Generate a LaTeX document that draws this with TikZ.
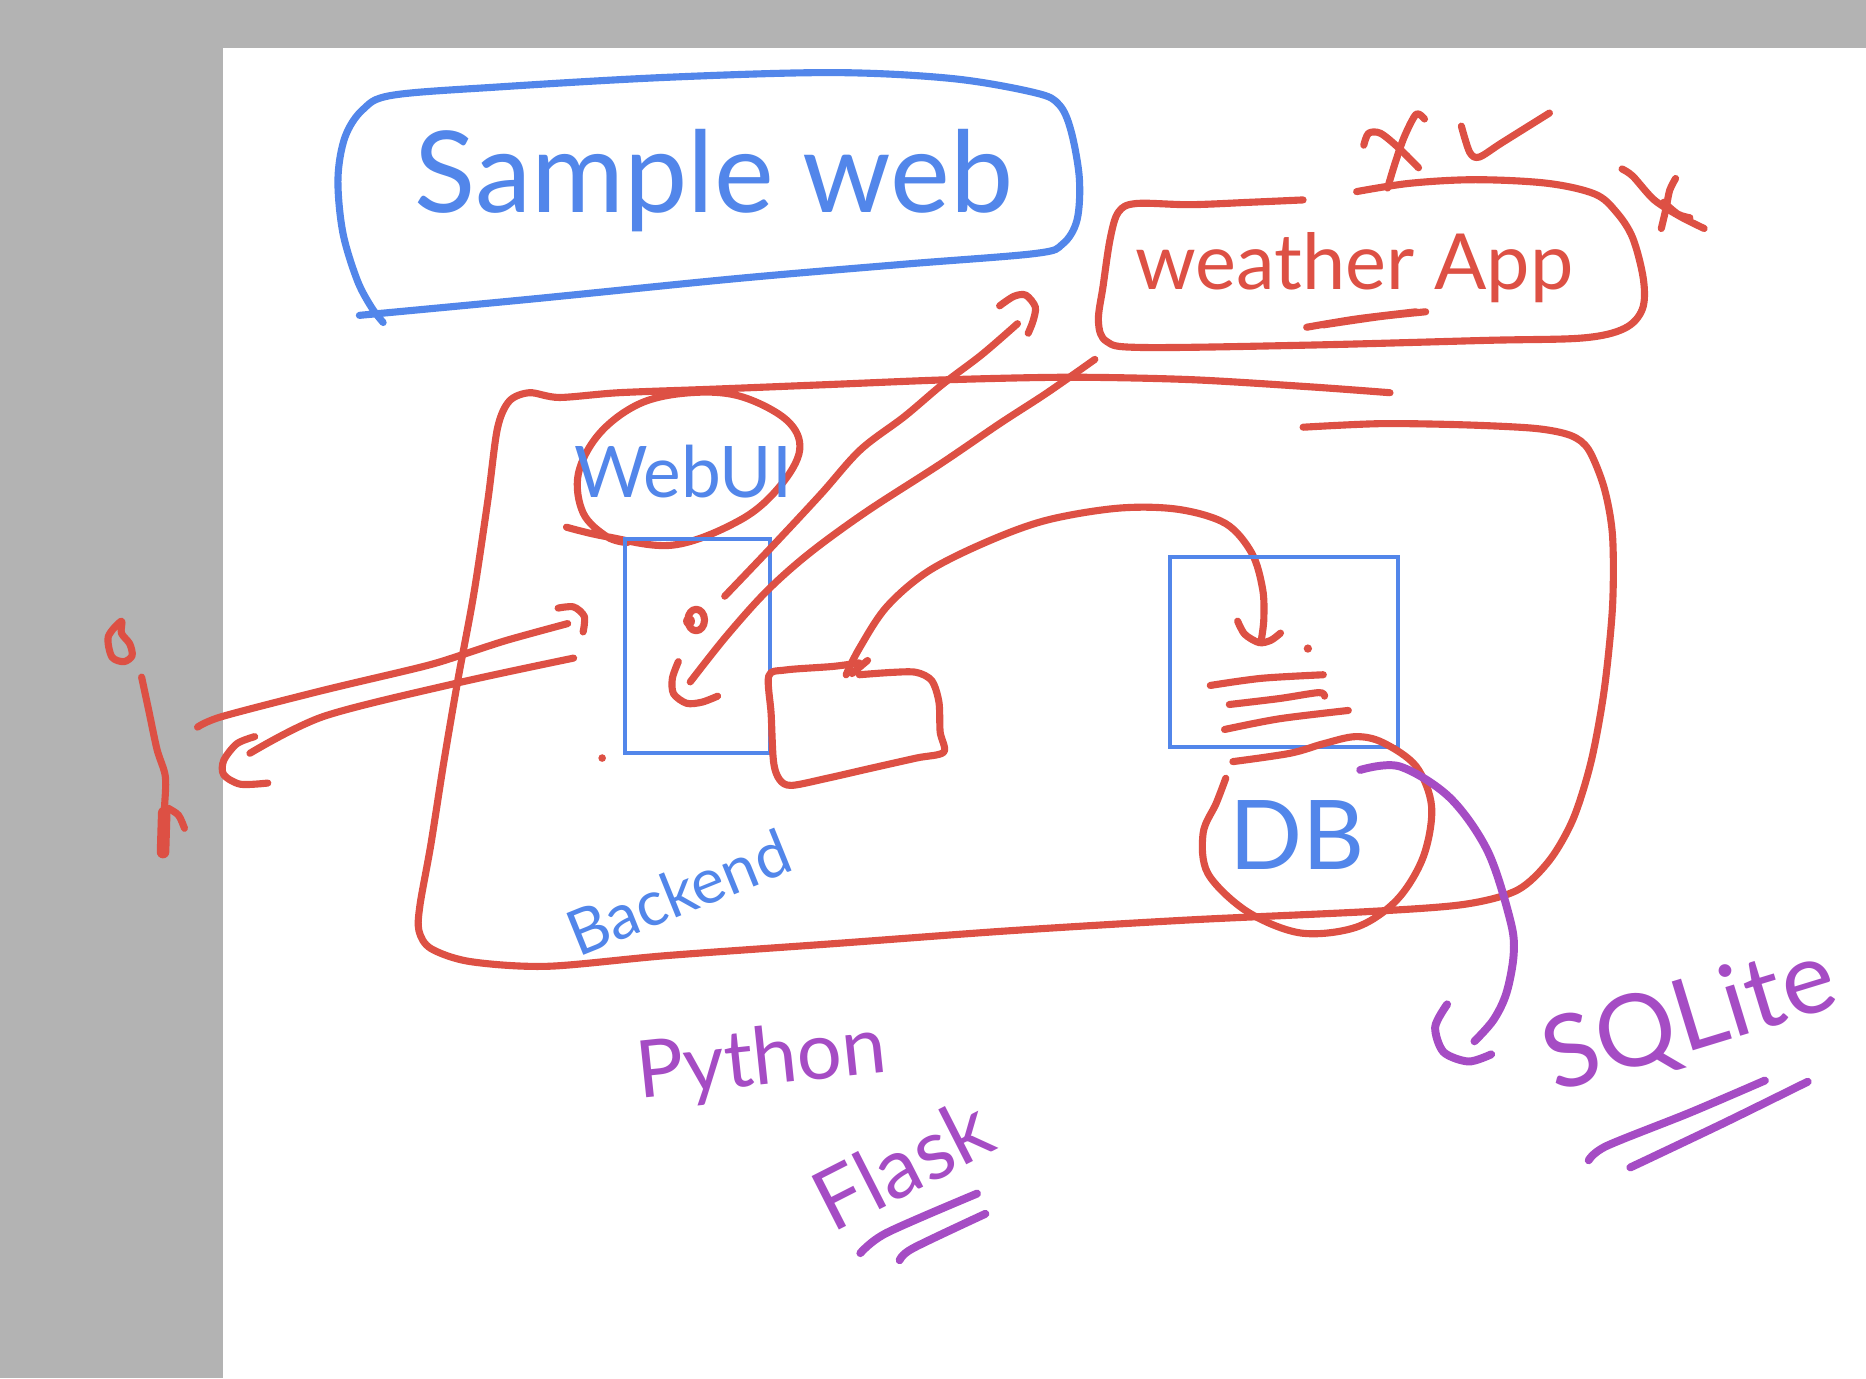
\documentclass[tikz,border=0pt]{standalone}
\usepackage{fontspec}
\setmainfont{Lato}
\definecolor{skred}{HTML}{DD5044}
\definecolor{skblue}{HTML}{5286EA}
\definecolor{skpurple}{HTML}{A54CC4}
\definecolor{skgray}{HTML}{B3B3B3}
\tikzset{
 rstroke/.style={draw=skred, line width=1.7pt, line cap=round, line join=round},
 bstroke/.style={draw=skblue, line width=1.7pt, line cap=round, line join=round},
 pstroke/.style={draw=skpurple, line width=1.9pt, line cap=round, line join=round},
 bbox/.style={draw=skblue, line width=1pt},
 btext/.style={text=skblue, inner sep=0pt},
 rtext/.style={text=skred, inner sep=0pt},
 ptext/.style={text=skpurple, inner sep=0pt},
}
\begin{document}
\begin{tikzpicture}[x=0.01cm, y=-0.01cm]
% page
\fill[skgray] (0,0) rectangle (1568,1158);
\fill[white] (187,40) rectangle (1568,1158);
\useasboundingbox (0,0) rectangle (1568,1158);

% ---------- Sample web ----------
\draw[bstroke] plot[smooth, tension=0.55] coordinates {(302,265) (450,251) (620,234) (760,222) (870,213) (893,205) (905,185) (907,150) (900,110) (890,88) (870,78) (800,66) (700,61) (560,65) (420,73) (330,80) (305,92) (290,115) (284,150) (288,195) (300,235) (312,258) (322,271)};
\node[btext, font=\fontsize{27}{31}\selectfont] (sample) at (600,152) {Sample web};

% ---------- weather App ----------
\draw[rstroke] plot[smooth, tension=0.55] coordinates {(1095,168) (1050,170) (1000,172) (955,171) (940,178) (933,200) (927,240) (923,270) (930,287) (960,292) (1100,290) (1250,286) (1330,284) (1365,276) (1380,260) (1381,235) (1372,200) (1358,178) (1340,163) (1300,154) (1240,151) (1185,154) (1140,161)};
\node[rtext, font=\fontsize{18.5}{22}\selectfont] (weather) at (1138,225) {weather App};
\draw[rstroke] plot[smooth] coordinates {(1098,275) (1140,268) (1190,262)};
\draw[rstroke] plot[smooth] coordinates {(1112,273) (1160,266) (1198,262)};
% marks above
\draw[rstroke] plot[smooth] coordinates {(1146,122) (1150,112) (1160,112) (1175,124) (1192,141)};
\draw[rstroke] plot[smooth] coordinates {(1197,100) (1190,96) (1180,115) (1172,138) (1166,158)};
\draw[rstroke] plot[smooth] coordinates {(1228,106) (1235,128) (1243,132) (1262,120) (1302,95)};
\draw[rstroke] plot[smooth] coordinates {(1363,142) (1372,148) (1390,168) (1412,182) (1432,192)};
\draw[rstroke] plot[smooth] coordinates {(1408,150) (1403,160) (1400,175) (1396,192)};
\draw[rstroke] plot[smooth] coordinates {(1398,170) (1410,180) (1420,183)};

% ---------- Backend outline ----------
\draw[rstroke] plot[smooth, tension=0.5] coordinates {(1168,330) (1100,325) (1000,319) (900,317) (800,319) (700,323) (600,327) (520,330) (470,334) (445,330) (428,337) (418,360) (410,420) (398,500) (385,570) (373,640) (362,710) (353,760) (352,782) (362,797) (395,808) (460,812) (560,803) (700,793) (850,782) (1000,773) (1150,766) (1230,760) (1275,748) (1302,723) (1322,688) (1337,640) (1348,580) (1355,510) (1355,450) (1348,410) (1335,378) (1320,366) (1290,360) (1230,357) (1160,356) (1095,359)};
\node[btext, font=\fontsize{15}{18}\selectfont, rotate=22] (backend) at (570,750) {Backend};

% ---------- Web UI ----------
\draw[rstroke] plot[smooth, tension=0.6] coordinates {(476,443) (510,451) (566,458) (622,437) (655,409) (672,378) (661,353) (622,333) (580,330) (538,339) (504,364) (486,398) (490,431) (510,451) (527,456)};
\node[btext, font=\fontsize{17}{20}\selectfont] (webui) at (574,396) {WebUI};
\draw[bbox] (525,453) rectangle (647,633);
% small o
\draw[rstroke] (585,521) ellipse (7 and 9);
\fill[skred] (579,522) circle (5);
% dot
\fill[skred] (506,637) circle (3.2);

% ---------- Web UI -> weather App ----------
\coordinate (a1s) at (609,501);
\coordinate (a1e) at (855,272);
\draw[rstroke] plot[smooth, tension=0.55] coordinates {(a1s) (650,458) (690,415) (723,378) (760,350) (792,323) (825,298) (a1e)};
\draw[rstroke] plot[smooth] coordinates {(840,257) (852,249) (862,248) (870,258) (868,270) (864,280)};

% ---------- weather App -> Web UI ----------
\coordinate (a2s) at (920,302);
\coordinate (a2e) at (580,573);
\draw[rstroke] plot[smooth, tension=0.55] coordinates {(a2s) (880,330) (840,356) (790,390) (728,430) (680,465) (644,497) (610,535) (a2e)};
\draw[rstroke] plot[smooth] coordinates {(570,556) (565,570) (566,583) (577,591) (590,590) (603,585)};

% ---------- small box ----------
\draw[rstroke] plot[smooth, tension=0.5] coordinates {(722,567) (750,565) (770,565) (783,572) (789,590) (790,615) (793,632) (770,637) (730,646) (695,654) (665,660) (655,655) (650,640) (648,600) (646,568) (660,563) (700,560) (722,557)};
\draw[rstroke] (729,555) -- (716,566);

% ---------- small box -> DB ----------
\coordinate (a3s) at (711,567);
\coordinate (a3e) at (1060,537);
\draw[rstroke] plot[smooth, tension=0.55] coordinates {(a3s) (722,545) (745,510) (780,480) (830,455) (880,437) (940,427) (990,428) (1030,440) (1052,465) (1061,495) (1062,520) (a3e)};
\draw[rstroke] plot[smooth] coordinates {(1040,522) (1046,533) (1058,540) (1068,538) (1076,532)};

% ---------- DB ----------
\draw[bbox] (983,468) rectangle (1175,628);
\fill[skred] (1099,545) circle (3.5);
\draw[rstroke] plot[smooth] coordinates {(1017,576) (1060,570) (1112,567)};
\draw[rstroke] plot[smooth] coordinates {(1033,592) (1075,587) (1108,582) (1113,585)};
\draw[rstroke] plot[smooth] coordinates {(1029,613) (1075,604) (1133,597)};
\draw[rstroke] plot[smooth, tension=0.55] coordinates {(1036,640) (1084,633) (1112,625) (1139,619) (1162,624) (1190,644) (1203,678) (1196,720) (1174,756) (1140,779) (1093,784) (1048,766) (1015,734) (1011,700) (1022,675) (1030,654)};
\node[btext, font=\fontsize{23}{27}\selectfont] (db) at (1090,702) {DB};

% ---------- SQLite ----------
\coordinate (a4s) at (1143,647);
\coordinate (a4e) at (1239,875);
\draw[pstroke] plot[smooth, tension=0.55] coordinates {(a4s) (1176,644) (1218,670) (1250,715) (1269,773) (1272,801) (1266,834) (1255,857) (a4e)};
\draw[pstroke] plot[smooth] coordinates {(1216,844) (1206,863) (1213,884) (1234,892) (1253,886)};
\node[ptext, font=\fontsize{24}{28}\selectfont, rotate=17] (sqlite) at (1420,858) {SQLite};
\draw[pstroke] plot[smooth] coordinates {(1335,975) (1350,963) (1420,935) (1483,908)};
\draw[pstroke] plot[smooth] coordinates {(1370,981) (1387,973) (1450,943) (1519,909)};

% ---------- Python Flask ----------
\node[ptext, font=\fontsize{19}{23}\selectfont, rotate=6] (python) at (640,893) {Python};
\node[ptext, font=\fontsize{20}{24}\selectfont, rotate=27] (flask) at (758,978) {Flask};
\draw[pstroke] plot[smooth] coordinates {(723,1053) (745,1036) (821,1003)};
\draw[pstroke] plot[smooth] coordinates {(756,1059) (767,1049) (828,1020)};

% ---------- left side ----------
\coordinate (l1s) at (166,611);
\coordinate (l1e) at (477,524);
\draw[rstroke] plot[smooth, tension=0.5] coordinates {(l1s) (187,602) (272,580) (356,560) (389,550) (426,538) (l1e)};
\draw[rstroke] plot[smooth] coordinates {(469,511) (482,510) (491,518) (490,531)};
\coordinate (l2s) at (482,553);
\coordinate (l2e) at (210,633);
\draw[rstroke] plot[smooth, tension=0.5] coordinates {(l2s) (384,574) (272,602) (l2e)};
\draw[rstroke] plot[smooth] coordinates {(214,619) (199,625) (188,639) (188,651) (202,659) (225,658)};
% figure in margin
\draw[rstroke] plot[smooth cycle] coordinates {(102,522) (91,535) (94,552) (104,556) (111,551) (109,541) (102,532)};
\draw[rstroke] plot[smooth] coordinates {(119,569) (125,597) (132,630) (139,653) (138,683) (137,718)};
\draw[skred, line width=3pt, line cap=round] (138,683) -- (137,716);
\draw[rstroke] plot[smooth] coordinates {(141,679) (150,685) (155,696)};
\end{tikzpicture}
\end{document}
